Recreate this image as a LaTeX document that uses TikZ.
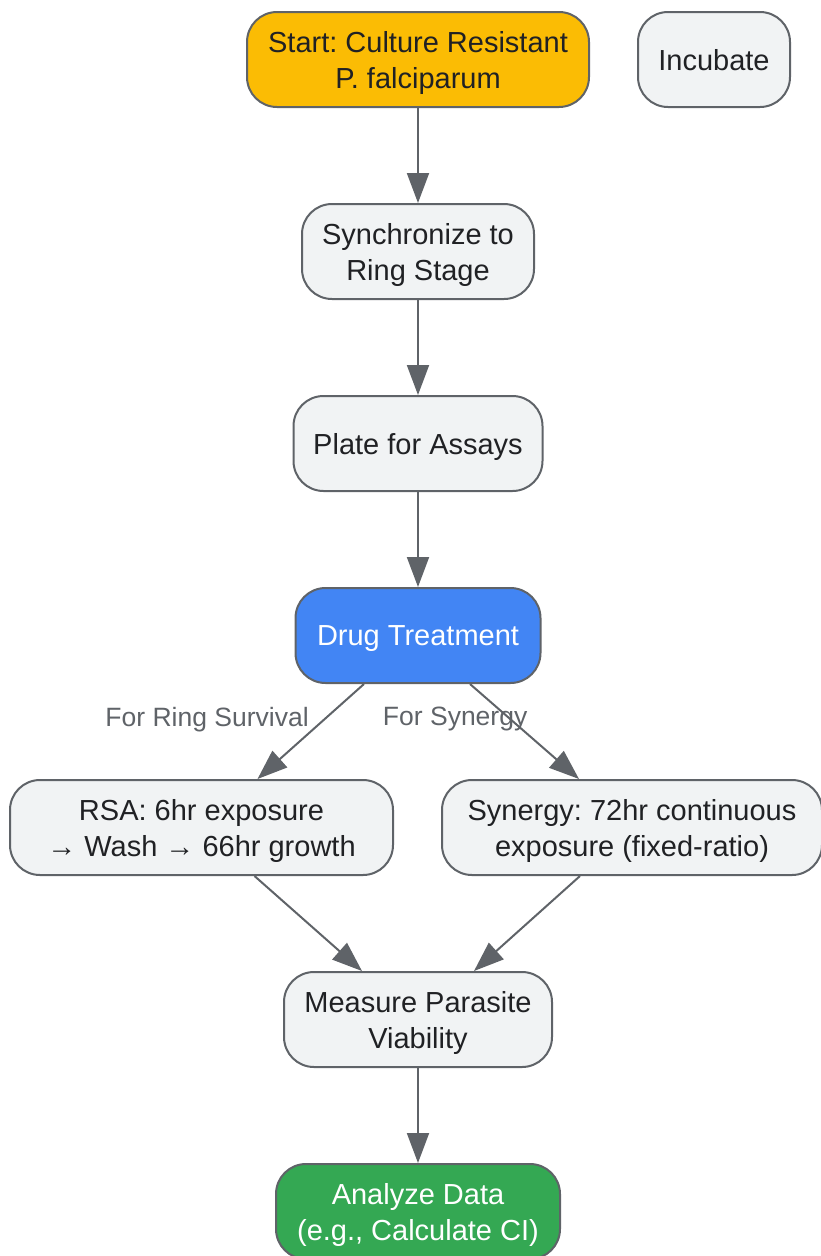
\documentclass[tikz,border=0pt]{standalone}
\usepackage{fontspec}
\setmainfont{Liberation Sans}
\usepackage{xcolor}
\usetikzlibrary{arrows.meta}
\frenchspacing

\definecolor{edgegray}{HTML}{5F6368}
\definecolor{boxgray}{HTML}{F1F3F4}
\definecolor{textdark}{HTML}{202124}
\definecolor{startyellow}{HTML}{FBBC04}
\definecolor{drugblue}{HTML}{4285F4}
\definecolor{donegreen}{HTML}{34A853}

\begin{document}
\begin{tikzpicture}[x=1pt,y=-1pt]
\tikzset{stepbox/.style={draw=edgegray,line width=2pt,fill=boxgray,rounded corners=30pt,
  minimum height=95pt,align=center,text=textdark,font=\fontsize{29}{36}\selectfont,inner sep=0pt,text depth=0pt}}
\tikzset{flow/.style={draw=edgegray,line width=2pt,-{Triangle[length=30pt,width=22pt]}}}
\tikzset{edgelabel/.style={text=edgegray,font=\fontsize{26.5}{32}\selectfont,inner sep=0pt}}

\useasboundingbox (0,0) rectangle (820,1256);

\node[stepbox,fill=startyellow,minimum width=342pt] (start) at (418,59.5) {Start: Culture Resistant\\P. falciparum};
\node[stepbox,minimum width=152pt] (incubate) at (714,59.5) {Incubate};
\node[stepbox,minimum width=232pt] (sync) at (418,251.5) {Synchronize to\\Ring Stage};
\node[stepbox,minimum width=249pt] (plate) at (418,443.5) {Plate for Assays};
\node[stepbox,fill=drugblue,text=white,minimum width=245pt] (drug) at (418,635.5) {Drug Treatment};
\node[stepbox,minimum width=383pt] (rsa) at (201.5,827.5) {RSA: 6hr exposure\\→ Wash → 66hr growth};
\node[stepbox,minimum width=380pt] (synergy) at (632,827.5) {Synergy: 72hr continuous\\exposure (fixed-ratio)};
\node[stepbox,minimum width=268pt] (measure) at (418,1019.5) {Measure Parasite\\Viability};
\node[stepbox,fill=donegreen,text=white,minimum width=284pt] (analyze) at (418,1211.5) {Analyze Data\\(e.g., Calculate CI)};

\draw[flow] (start) -- (sync);
\draw[flow] (sync) -- (plate);
\draw[flow] (plate) -- (drug);
\draw[flow] ([xshift=-54pt]drug.south) -- node[edgelabel,pos=0.35,anchor=east,xshift=-17pt,yshift=-2pt] (ringlabel) {For Ring Survival} ([xshift=56pt]rsa.north);
\draw[flow] ([xshift=52pt]drug.south) -- node[edgelabel,pos=0.35,xshift=-53pt,yshift=-2pt] (synlabel) {For Synergy} ([xshift=-53pt]synergy.north);
\draw[flow] ([xshift=53pt]rsa.south) -- ([xshift=-56pt]measure.north);
\draw[flow] ([xshift=-52pt]synergy.south) -- ([xshift=56pt]measure.north);
\draw[flow] (measure) -- (analyze);

\end{tikzpicture}
\end{document}
